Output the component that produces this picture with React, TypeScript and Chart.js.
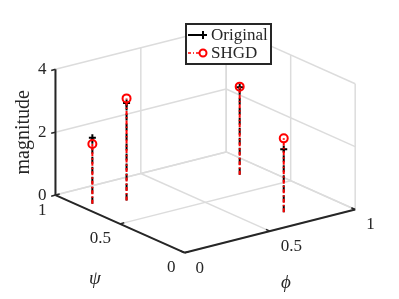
import React, { useEffect, useRef } from "react";
import { Chart, registerables } from "chart.js";
Chart.register(...registerables);

// ---- data ----
const psiValues = [0.8, 0.74, 0.71, 0.17];
const phiValues = [0.065, 0.22, 0.86, 0.71];
const originalValues = [2.1, 3.1, 2.78, 2.0];
const shgdValues = [1.9, 3.25, 2.8, 2.35];
const psiTicks = [0, 0.5, 1];
const phiTicks = [0, 0.5, 1];
const zTicks = [0, 2, 4];
const seriesNames = ["Original", "SHGD"];

// ---- view (orthographic projection of the 3-D box) ----
const VIEW = {
  ox: 184, oy: 257,       // psi=0, phi=0, z=0
  px: -133, py: -60,      // per unit psi
  fx: 176, fy: -45,       // per unit phi
  zy: -32.75,             // per unit z
};
const ZMAX = 4;
function project(ps: number, ph: number, z: number) {
  return {
    x: VIEW.ox + ps * VIEW.px + ph * VIEW.fx,
    y: VIEW.oy + ps * VIEW.py + ph * VIEW.fy + z * VIEW.zy,
  };
}

const AXIS = "#262626";
const GRID = "#dcdcdc";
const FONT = '"Liberation Serif", "Times New Roman", serif';

const boxPlugin = {
  id: "box3d",
  beforeDatasetsDraw(chart: any) {
    const { ctx, scales } = chart;
    const sx = (v: number) => scales.x.getPixelForValue(v);
    const sy = (v: number) => scales.y.getPixelForValue(v);
    const line = (a: any, b: any) => {
      ctx.beginPath();
      ctx.moveTo(sx(a.x), sy(a.y));
      ctx.lineTo(sx(b.x), sy(b.y));
      ctx.stroke();
    };
    ctx.save();
    // grid
    ctx.strokeStyle = GRID;
    ctx.lineWidth = 1.5;
    for (const z of zTicks) {
      line(project(1, 0, z), project(1, 1, z));
      line(project(1, 1, z), project(0, 1, z));
    }
    for (const ph of phiTicks) {
      line(project(1, ph, 0), project(1, ph, ZMAX));
      line(project(0, ph, 0), project(1, ph, 0));
    }
    for (const ps of psiTicks) {
      line(project(ps, 1, 0), project(ps, 1, ZMAX));
      line(project(ps, 0, 0), project(ps, 1, 0));
    }
    // axes
    ctx.strokeStyle = AXIS;
    ctx.lineWidth = 2;
    line(project(1, 0, 0), project(1, 0, ZMAX));
    line(project(0, 0, 0), project(1, 0, 0));
    line(project(0, 0, 0), project(0, 1, 0));
    ctx.lineWidth = 1.5;
    for (const z of zTicks) line(project(1, 0, z), project(1, -0.025, z));
    for (const ps of psiTicks) line(project(ps, 0, 0), project(ps, 0.025, 0));
    for (const ph of phiTicks) line(project(0, ph, 0), project(0.03, ph, 0));
    // tick labels
    ctx.fillStyle = AXIS;
    ctx.font = `17px ${FONT}`;
    ctx.textBaseline = "middle";
    ctx.textAlign = "right";
    for (const z of zTicks) {
      const p = project(1, 0, z);
      ctx.fillText(String(z), sx(p.x) - 9, sy(p.y));
    }
    for (const ps of psiTicks) {
      const p = project(ps, 0, 0);
      ctx.fillText(String(ps), sx(p.x) - 9, sy(p.y) + 15);
    }
    ctx.textAlign = "left";
    for (const ph of phiTicks) {
      const p = project(0, ph, 0);
      ctx.fillText(String(ph), sx(p.x) + 11, sy(p.y) + 15.5);
    }
    // axis titles
    ctx.textAlign = "center";
    ctx.font = `italic 19px ${FONT}`;
    const pp = project(0.5, 0, 0);
    ctx.fillText("\u03c8", sx(pp.x) - 25, sy(pp.y) + 55);
    const pf = project(0, 0.5, 0);
    ctx.fillText("\u03d5", sx(pf.x) + 16, sy(pf.y) + 52);
    ctx.font = `20px ${FONT}`;
    const pz = project(1, 0, ZMAX / 2);
    ctx.translate(sx(pz.x) - 32, sy(pz.y));
    ctx.rotate(-Math.PI / 2);
    ctx.fillText("magnitude", 0, 0);
    ctx.restore();
  },
  afterDatasetsDraw(chart: any) {
    const { ctx } = chart;
    ctx.save();
    const L = 186, T = 24, W = 85, H = 40;
    ctx.fillStyle = "#ffffff";
    ctx.fillRect(L, T, W, H);
    ctx.strokeStyle = AXIS;
    ctx.lineWidth = 2;
    ctx.strokeRect(L, T, W, H);
    const rows = [T + 11, T + 29];
    // Original
    ctx.strokeStyle = "#000000";
    ctx.lineWidth = 2;
    ctx.beginPath();
    ctx.moveTo(L + 2, rows[0]);
    ctx.lineTo(L + 16, rows[0]);
    ctx.stroke();
    ctx.beginPath();
    ctx.moveTo(L + 13, rows[0]);
    ctx.lineTo(L + 21, rows[0]);
    ctx.moveTo(L + 17, rows[0] - 4);
    ctx.lineTo(L + 17, rows[0] + 4);
    ctx.stroke();
    // SHGD
    ctx.strokeStyle = "#ff0000";
    ctx.lineWidth = 1.5;
    ctx.setLineDash([3, 2, 1, 2]);
    ctx.beginPath();
    ctx.moveTo(L + 2, rows[1]);
    ctx.lineTo(L + 13, rows[1]);
    ctx.stroke();
    ctx.setLineDash([]);
    ctx.lineWidth = 2;
    ctx.beginPath();
    ctx.arc(L + 17, rows[1], 3.5, 0, Math.PI * 2);
    ctx.stroke();
    ctx.fillStyle = AXIS;
    ctx.font = `17px ${FONT}`;
    ctx.textAlign = "left";
    ctx.textBaseline = "middle";
    ctx.fillText(seriesNames[0], L + 25, rows[0] + 1);
    ctx.fillText(seriesNames[1], L + 25, rows[1] + 1);
    ctx.restore();
  },
};

export default function App() {
  const ref = useRef<HTMLCanvasElement | null>(null);
  useEffect(() => {
    document.body.style.margin = "0";
    const stems = (vals: number[], color: string, dash: number[], width: number, order: number, label: string) =>
      vals.map((v, i) => ({
        label: `${label}-stem-${i}`,
        data: [project(psiValues[i], phiValues[i], 0), project(psiValues[i], phiValues[i], v)],
        showLine: true,
        borderColor: color,
        borderWidth: width,
        borderDash: dash,
        pointRadius: 0,
        order,
      }));
    const markers = (vals: number[], color: string, style: string, radius: number, order: number, label: string) => ({
      label,
      data: vals.map((v, i) => project(psiValues[i], phiValues[i], v)),
      showLine: false,
      pointStyle: style,
      pointRadius: radius,
      pointBorderColor: color,
      pointBackgroundColor: "rgba(0,0,0,0)",
      pointBorderWidth: 2,
      order,
    });
    const chart = new Chart(ref.current as HTMLCanvasElement, {
      type: "scatter",
      data: {
        datasets: [
          markers(shgdValues, "#ff0000", "circle", 4, 0, seriesNames[1]),
          ...stems(shgdValues, "#ff0000", [4, 2, 1.5, 2], 2, 1, seriesNames[1]),
          markers(originalValues, "#000000", "cross", 3.5, 2, seriesNames[0]),
          ...stems(originalValues, "#000000", [7, 3], 2, 3, seriesNames[0]),
        ] as any,
      },
      options: {
        animation: false,
        responsive: false,
        layout: { padding: 0 },
        plugins: { legend: { display: false }, tooltip: { enabled: false } },
        scales: {
          x: { type: "linear", min: 0, max: 399, display: false },
          y: { type: "linear", min: 0, max: 299, reverse: true, display: false },
        },
      },
      plugins: [boxPlugin],
    });
    return () => chart.destroy();
  }, []);
  return (
    <div style={{ position: "absolute", left: 0, top: 0, width: 399, height: 299, background: "#fff" }}>
      <canvas ref={ref} width={399} height={299} />
    </div>
  );
}
